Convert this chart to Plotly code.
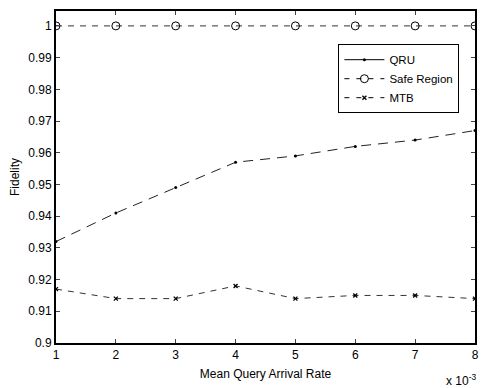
import plotly.graph_objects as go

x_vals = [1, 2, 3, 4, 5, 6, 7, 8]
qru = [0.932, 0.941, 0.949, 0.957, 0.959, 0.962, 0.964, 0.967]
safe_region = [1.0, 1.0, 1.0, 1.0, 1.0, 1.0, 1.0, 1.0]
mtb = [0.917, 0.914, 0.914, 0.918, 0.914, 0.915, 0.915, 0.914]
y_ticks = [0.9, 0.91, 0.92, 0.93, 0.94, 0.95, 0.96, 0.97, 0.98, 0.99, 1.0]
y_tick_text = ["0.9", "0.91", "0.92", "0.93", "0.94", "0.95", "0.96", "0.97", "0.98", "0.99", "1"]

font = "Liberation Sans, Arial, sans-serif"
fig = go.Figure()

# plotted lines (legend entries are drawn separately)
fig.add_trace(go.Scatter(x=x_vals, y=qru, mode="lines+markers", showlegend=False,
                         line=dict(color="#222", width=1, dash="10px,7px"),
                         marker=dict(symbol="circle", size=3, color="#000")))
fig.add_trace(go.Scatter(x=x_vals, y=safe_region, mode="lines+markers", showlegend=False,
                         line=dict(color="#333", width=1, dash="6px,6px"),
                         marker=dict(symbol="circle-open", size=8, color="#000", line=dict(width=1))))
fig.add_trace(go.Scatter(x=x_vals, y=mtb, mode="lines+markers", showlegend=False,
                         line=dict(color="#333", width=1, dash="6px,6px"),
                         marker=dict(symbol="x-thin-open", size=4, color="#000", line=dict(width=1.3))))

# legend entries
fig.add_trace(go.Scatter(x=[None], y=[None], mode="lines+markers", name="QRU",
                         line=dict(color="#000", width=1),
                         marker=dict(symbol="circle", size=3, color="#000")))
fig.add_trace(go.Scatter(x=[None], y=[None], mode="lines+markers", name="Safe Region",
                         line=dict(color="#000", width=1, dash="5px,7px"),
                         marker=dict(symbol="circle-open", size=8, color="#000", line=dict(width=1))))
fig.add_trace(go.Scatter(x=[None], y=[None], mode="lines+markers", name="MTB",
                         line=dict(color="#000", width=1, dash="5px,7px"),
                         marker=dict(symbol="x-thin-open", size=4, color="#000", line=dict(width=1.3))))

fig.update_layout(
    width=482, height=388,
    margin=dict(l=56, r=3, t=11, b=45),
    plot_bgcolor="white", paper_bgcolor="white",
    font=dict(family=font, size=12, color="#000"),
    showlegend=True,
    legend=dict(x=0.674, y=0.9, xanchor="left", yanchor="top",
                bgcolor="white", bordercolor="#000", borderwidth=1,
                font=dict(size=11.5), tracegroupgap=0, itemwidth=40),
    xaxis=dict(range=[1, 8], tickvals=x_vals, ticks="inside", ticklen=4,
               showline=True, linecolor="#000", linewidth=2, mirror="ticks",
               showgrid=False, zeroline=False, tickfont=dict(size=12),
               title=dict(text="Mean Query Arrival Rate", font=dict(size=12), standoff=8)),
    yaxis=dict(range=[0.9, 1.0047], tickvals=y_ticks, ticktext=y_tick_text,
               ticks="inside", ticklen=4,
               showline=True, linecolor="#000", linewidth=2, mirror="ticks",
               showgrid=False, zeroline=False, tickfont=dict(size=12),
               title=dict(text="Fidelity", font=dict(size=12), standoff=6)),
)

fig.add_annotation(xref="paper", yref="paper", x=1.007, y=-0.082, xanchor="right", yanchor="top",
                   text="x 10<sup>-3</sup>", showarrow=False, font=dict(size=12))

fig.write_html("out.html")
